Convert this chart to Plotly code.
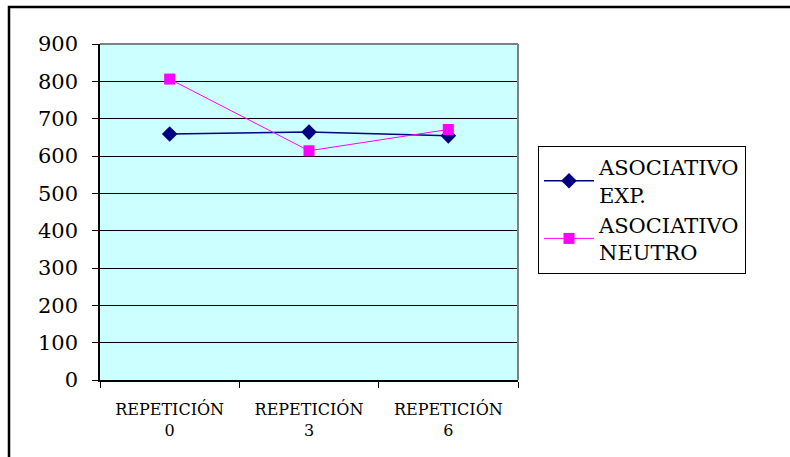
import plotly.graph_objects as go

# Data
categories = ["REPETICIÓN<br>0", "REPETICIÓN<br>3", "REPETICIÓN<br>6"]
asociativo_exp = [659, 664, 654]
asociativo_neutro = [806, 614, 671]
y_ticks = [0, 100, 200, 300, 400, 500, 600, 700, 800, 900]

W, H = 790, 457
L, R, T, B = 100, 518, 44, 380  # plot-area edges in pixels

def px_x(x):
    return (x - L) / (R - L)

def px_y(y):
    return (B - y) / (B - T)

serif = "DejaVu Serif"

fig = go.Figure()
fig.add_trace(go.Scatter(
    x=categories, y=asociativo_exp, mode="lines+markers",
    name="ASOCIATIVO<br>EXP.",
    line=dict(color="#000080", width=1.5),
    marker=dict(symbol="diamond", size=12, color="#000080"),
))
fig.add_trace(go.Scatter(
    x=categories, y=asociativo_neutro, mode="lines+markers",
    name="ASOCIATIVO<br>NEUTRO",
    line=dict(color="#FF00FF", width=1),
    marker=dict(symbol="square", size=11, color="#FF00FF"),
))

fig.update_layout(
    width=W, height=H,
    margin=dict(l=L, r=W - R, t=T, b=H - B, pad=0),
    paper_bgcolor="white",
    plot_bgcolor="#CCFFFF",
    font=dict(family=serif, color="black"),
    showlegend=True,
    legend=dict(
        x=px_x(538), y=px_y(146), xanchor="left", yanchor="top",
        bordercolor="black", borderwidth=1, bgcolor="white",
        font=dict(family=serif, size=21, color="black"),
        itemwidth=50, tracegroupgap=8,
    ),
    xaxis=dict(
        type="category", range=[-0.5, 2.5],
        tickson="boundaries", ticks="outside", ticklen=6, tickcolor="black",
        showline=True, linecolor="black", linewidth=1.5,
        showgrid=False, zeroline=False,
        ticklabelstandoff=14,
        tickfont=dict(family=serif, size=16, color="black"),
    ),
    yaxis=dict(
        range=[0, 900], tickvals=y_ticks,
        ticks="outside", ticklen=6, tickcolor="black",
        showline=True, linecolor="black", linewidth=1.5,
        showgrid=True, gridcolor="black", gridwidth=1,
        zeroline=False,
        ticklabelstandoff=10,
        tickfont=dict(family=serif, size=21, color="black"),
    ),
    shapes=[
        # gray top and right edges of the plot area
        dict(type="line", xref="paper", yref="paper", x0=0, x1=1, y0=1, y1=1,
             line=dict(color="#808080", width=2)),
        dict(type="line", xref="paper", yref="paper", x0=1, x1=1, y0=0, y1=1,
             line=dict(color="#808080", width=2)),
        # outer chart frame
        dict(type="rect", xref="paper", yref="paper",
             x0=px_x(9), x1=px_x(W + 5), y0=px_y(7), y1=px_y(H + 5),
             line=dict(color="black", width=2.5), layer="above"),
    ],
)

fig.write_html("out.html")
